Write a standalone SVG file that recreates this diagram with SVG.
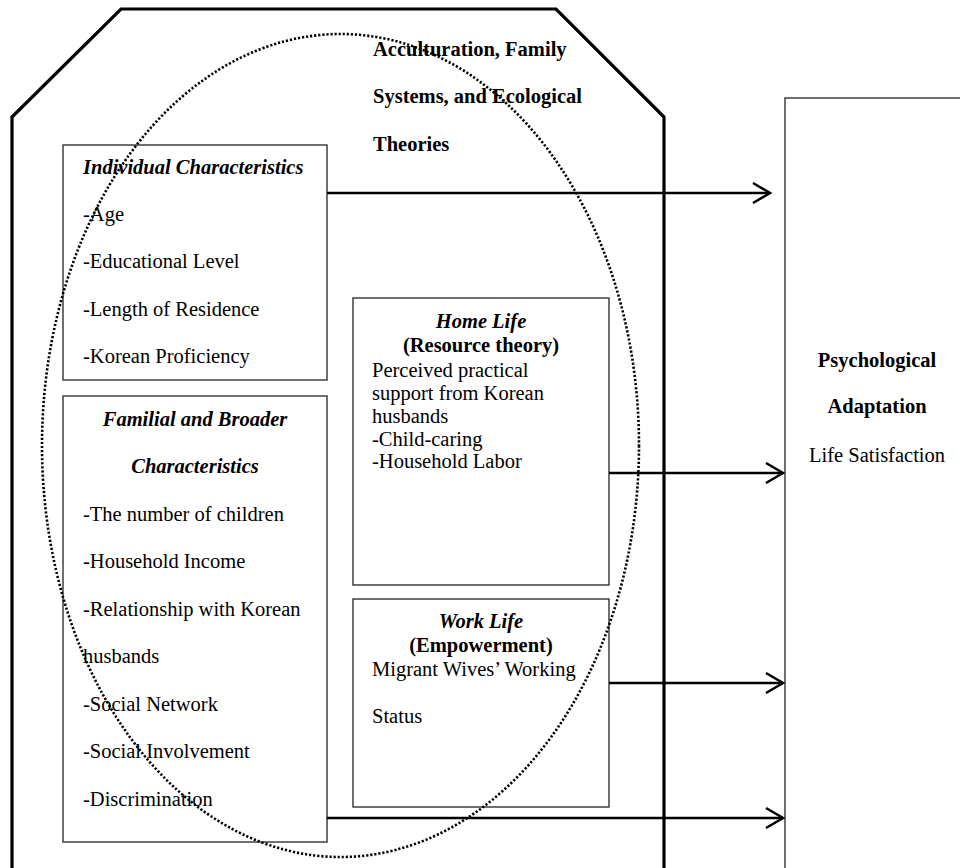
<svg xmlns="http://www.w3.org/2000/svg" width="960" height="868" viewBox="0 0 960 868">
<defs>
<style>
.t{font-family:"Liberation Serif","Times New Roman",serif;font-size:20.5px;fill:#000}
.b{font-weight:bold}
.bi{font-weight:bold;font-style:italic}
.c{text-anchor:middle}
.box{fill:#fff;stroke:#333;stroke-width:1.4}
.conn{stroke:#000;stroke-width:2.5;fill:none}
</style>
<marker id="ah" markerUnits="userSpaceOnUse" markerWidth="30" markerHeight="30" viewBox="-22 -15 30 30" refX="0" refY="0" orient="auto" overflow="visible">
<path d="M-17,-10 L0,0 L-17,10" fill="none" stroke="#000" stroke-width="2.5"/>
</marker>
</defs>
<rect width="960" height="868" fill="#fff"/>
<g id="frame">
<polyline points="12,868 12,117 121,9 556,9 664,117 664,868" fill="none" stroke="#000" stroke-width="3.2"/>
<text class="t b" x="373" y="56">Acculturation, Family</text>
<text class="t b" x="373" y="103">Systems, and Ecological</text>
<text class="t b" x="373" y="151">Theories</text>
</g>
<g id="outcome">
<rect class="box" x="785" y="98" width="220" height="800"/>
<text class="t b c" x="877" y="367">Psychological</text>
<text class="t b c" x="877" y="413">Adaptation</text>
<text class="t c" x="877" y="462">Life Satisfaction</text>
</g>
<g id="individual">
<rect class="box" x="63" y="145" width="264" height="235"/>
<text class="t bi" x="83" y="174">Individual Characteristics</text>
<text class="t" x="83" y="221">-Age</text>
<text class="t" x="83" y="268">-Educational Level</text>
<text class="t" x="83" y="316">-Length of Residence</text>
<text class="t" x="83" y="363">-Korean Proficiency</text>
</g>
<g id="familial">
<rect class="box" x="63" y="396" width="264" height="446"/>
<text class="t bi c" x="195" y="426">Familial and Broader</text>
<text class="t bi c" x="195" y="473">Characteristics</text>
<text class="t" x="83" y="521">-The number of children</text>
<text class="t" x="83" y="568">-Household Income</text>
<text class="t" x="83" y="616">-Relationship with Korean</text>
<text class="t" x="83" y="663">husbands</text>
<text class="t" x="83" y="711">-Social Network</text>
<text class="t" x="83" y="758">-Social Involvement</text>
<text class="t" x="83" y="806">-Discrimination</text>
</g>
<g id="homelife">
<rect class="box" x="353" y="298" width="256" height="287"/>
<text class="t bi c" x="481" y="328">Home Life</text>
<text class="t b c" x="481" y="352">(Resource theory)</text>
<text class="t" x="372" y="377">Perceived practical</text>
<text class="t" x="372" y="400">support from Korean</text>
<text class="t" x="372" y="423">husbands</text>
<text class="t" x="372" y="446">-Child-caring</text>
<text class="t" x="372" y="468">-Household Labor</text>
</g>
<g id="worklife">
<rect class="box" x="353" y="599" width="256" height="208"/>
<text class="t bi c" x="481" y="628">Work Life</text>
<text class="t b c" x="481" y="652">(Empowerment)</text>
<text class="t" x="372" y="676">Migrant Wives’ Working</text>
<text class="t" x="372" y="723">Status</text>
</g>
<g id="connectors">
<line class="conn" x1="327" y1="193" x2="770" y2="193" marker-end="url(#ah)"/>
<line class="conn" x1="609" y1="473" x2="783" y2="473" marker-end="url(#ah)"/>
<line class="conn" x1="609" y1="683" x2="783" y2="683" marker-end="url(#ah)"/>
<line class="conn" x1="327" y1="818" x2="783" y2="818" marker-end="url(#ah)"/>
</g>
<g id="theory-ellipse">
<ellipse cx="340.5" cy="445.5" rx="298.5" ry="411.5" fill="none" stroke="#000" stroke-width="2.6" stroke-dasharray="2.2 1.9"/>
</g>
</svg>
